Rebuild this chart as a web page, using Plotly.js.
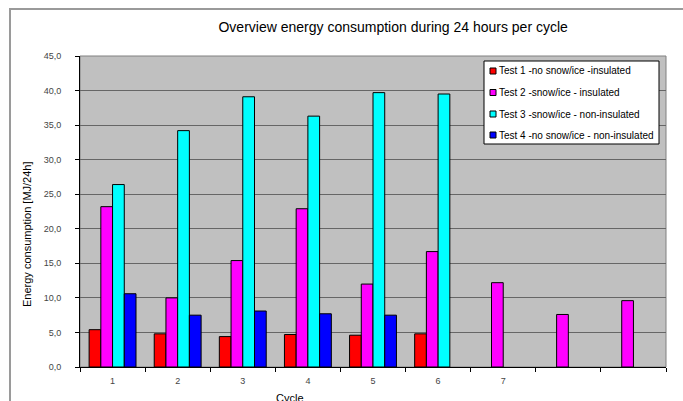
<!DOCTYPE html>
<html><head><meta charset="utf-8">
<script src="https://cdn.plot.ly/plotly-3.0.1.min.js"></script>
<style>
html,body{margin:0;padding:0;background:#fff;overflow:hidden}
#frame{position:absolute;left:9px;top:8px;width:720px;height:420px;border-left:2px solid #9a9a9a;border-top:2px solid #9a9a9a;pointer-events:none;z-index:5}
#chart{width:683px;height:401px}
</style></head>
<body>
<div id="frame"></div>
<div id="chart"></div>
<script>
var categories = ["1","2","3","4","5","6","7","8","9"];
var tickLabels = ["1","2","3","4","5","6","7","",""];
var seriesNames = [
  "Test 1 -no snow/ice -insulated",
  "Test 2 -snow/ice - insulated",
  "Test 3 -snow/ice - non-insulated",
  "Test 4 -no snow/ice - non-insulated"
];
var test1 = [5.4, 4.8, 4.4, 4.7, 4.6, 4.8, null, null, null];
var test2 = [23.2, 10.0, 15.4, 22.9, 12.0, 16.7, 12.2, 7.6, 9.6];
var test3 = [26.4, 34.2, 39.1, 36.3, 39.7, 39.5, null, null, null];
var test4 = [10.6, 7.5, 8.1, 7.7, 7.5, null, null, null, null];
var colors = ["#FF0000", "#FF00FF", "#00FFFF", "#0000FF"];

var allSeries = [test1, test2, test3, test4];
var traces = allSeries.map(function(vals, i){
  return {
    type: "bar", x: categories, y: vals, name: seriesNames[i],
    marker: {color: colors[i], line: {color: "#000", width: 1}},
    showlegend: false, hoverinfo: "y"
  };
});

var W = 683, H = 401;
var L = 80, R = 17, T = 56, B = 34;
var pw = W - L - R, ph = H - T - B;
function px(x){ return (x - L) / pw; }
function py(y){ return (H - B - y) / ph; }

// custom legend (box, swatches, labels) in paper coordinates
var shapes = [{type: "rect", xref: "paper", yref: "paper", x0: 0, x1: 1, y0: 0, y1: 1,
               line: {color: "#808080", width: 1}, layer: "below"},
              {type: "rect", xref: "paper", yref: "paper",
               x0: px(484), x1: px(659), y0: py(61), y1: py(144),
               fillcolor: "#fff", line: {color: "#000", width: 1}, layer: "above"}];
var annotations = [];
var rowY = [71, 92.5, 114, 135];
seriesNames.forEach(function(name, i){
  shapes.push({type: "rect", xref: "paper", yref: "paper",
               x0: px(490), x1: px(496), y0: py(rowY[i] + 3), y1: py(rowY[i] - 3),
               fillcolor: colors[i], line: {color: "#000", width: 1}, layer: "above"});
  annotations.push({text: name, xref: "paper", yref: "paper", x: px(497), y: py(rowY[i]),
                    xanchor: "left", yanchor: "middle", showarrow: false,
                    font: {size: 10, color: "#000"}});
});
annotations.push({text: "Cycle", xref: "paper", yref: "paper",
                  x: px(290), y: py(390), xanchor: "center", yanchor: "top",
                  showarrow: false, font: {size: 11, color: "#000"}});
annotations.push({text: "Energy consumption [MJ/24h]", xref: "paper", yref: "paper",
                  x: px(27), y: py(234), xanchor: "center", yanchor: "middle",
                  textangle: -90, showarrow: false, font: {size: 11, color: "#000"}});

var layout = {
  width: W, height: H,
  margin: {l: L, r: R, t: T, b: B, pad: 0},
  paper_bgcolor: "#fff",
  plot_bgcolor: "#C0C0C0",
  font: {family: "Liberation Sans, Arial, sans-serif", size: 9, color: "#333"},
  separators: ",.",
  barmode: "group",
  bargap: 0.28,
  bargroupgap: 0,
  showlegend: false,
  title: {text: "Overview energy consumption during 24 hours per cycle",
          font: {size: 14, color: "#000"}, x: 365 / W, xanchor: "center",
          y: 1 - 27 / H, yanchor: "middle", xref: "paper"},
  xaxis: {
    type: "category", categoryorder: "array", categoryarray: categories,
    tickmode: "array", tickvals: categories, ticktext: tickLabels,
    tickson: "boundaries", ticks: "outside", ticklen: 4, tickcolor: "#000",
    ticklabelstandoff: 5,
    showline: true, linecolor: "#000", linewidth: 1,
    showgrid: false, zeroline: false, fixedrange: true,
    tickfont: {size: 9, color: "#444"}
  },
  yaxis: {
    range: [0, 45], dtick: 5, tickformat: ".1f",
    ticks: "outside", ticklen: 4, tickcolor: "#000",
    ticklabelstandoff: 12,
    showline: true, linecolor: "#000", linewidth: 1,
    showgrid: true, gridcolor: "#666", gridwidth: 1,
    zeroline: false, fixedrange: true,
    tickfont: {size: 9, color: "#444"}
  },
  shapes: shapes,
  annotations: annotations
};

Plotly.newPlot("chart", traces, layout, {displayModeBar: false, staticPlot: true});
</script>
</body></html>
